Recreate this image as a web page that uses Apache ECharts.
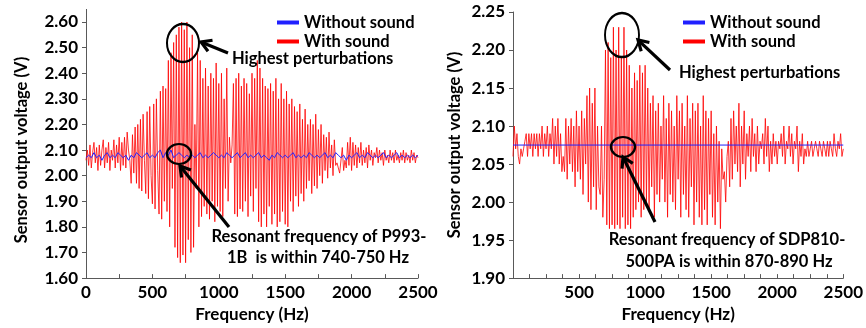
<!DOCTYPE html>
<html><head><meta charset="utf-8">
<script src="https://cdn.jsdelivr.net/npm/echarts@6/dist/echarts.min.js"></script>
<style>html,body{margin:0;padding:0;background:#fff}#c{width:866px;height:328px}</style>
</head><body><div id="c"></div>
<script>
// ---------- data ----------
const stepRed = 10;   // Hz between red samples
const stepBlueL = 20; // Hz between blue samples (left)
const xTicksLeft = [0, 500, 1000, 1500, 2000, 2500];
const xTicksRight = [500, 1000, 1500, 2000, 2500];
const legendNames = ['Without sound', 'With sound'];

const redLeft = [
2.06,2.10,2.04,2.12,2.03,2.09,2.13,2.05,2.11,2.02,
2.12,2.04,2.10,2.14,2.03,2.11,2.05,2.13,2.02,2.10,
2.06,2.14,2.03,2.12,2.05,2.15,2.02,2.13,2.04,2.15,
2.03,2.17,2.10,2.06,1.97,2.16,2.01,2.19,1.97,2.20,
1.95,2.22,1.94,2.24,2.06,1.93,2.25,1.91,2.27,2.00,
1.89,2.28,1.87,2.30,2.02,1.85,2.33,1.83,2.35,1.90,
2.34,1.86,2.45,1.80,2.48,1.95,2.52,1.72,2.55,1.68,
2.58,1.66,2.60,1.69,2.57,1.66,2.60,1.75,2.50,1.70,
2.55,1.72,2.20,1.95,2.48,1.80,2.45,1.84,2.38,1.88,
2.42,1.85,2.35,1.83,2.40,1.90,2.38,1.82,2.44,1.88,
2.36,1.86,2.40,1.84,2.30,1.95,2.42,1.90,2.15,2.05,
2.12,2.36,1.85,2.38,1.84,2.40,1.87,2.35,1.86,2.38,
1.90,2.36,1.84,2.32,1.92,2.40,1.86,2.38,1.95,2.45,
1.82,2.42,1.80,2.38,1.85,2.35,1.80,2.34,1.88,2.36,
1.81,2.33,1.85,2.38,1.80,2.30,1.82,2.36,1.86,2.30,
1.81,2.33,1.80,2.28,1.90,2.30,1.86,2.27,1.92,2.25,
1.88,2.28,1.93,2.22,1.90,2.26,1.95,2.20,1.98,2.22,
1.93,2.20,1.96,2.24,1.95,2.18,2.00,2.20,1.97,2.16,
2.02,2.15,1.99,2.17,2.03,2.12,2.00,2.14,2.04,2.05,
2.03,2.01,2.01,2.11,2.02,2.06,2.03,2.13,2.04,2.15,
2.02,2.13,2.04,2.12,2.03,2.11,2.05,2.13,2.04,2.10,
2.05,2.11,2.03,2.12,2.06,2.10,2.04,2.09,2.07,2.11,
2.05,2.10,2.06,2.09,2.04,2.10,2.06,2.08,2.05,2.10,
2.06,2.09,2.05,2.10,2.06,2.08,2.05,2.09,2.06,2.10,
2.05,2.09,2.06,2.08,2.05,2.10,2.06,2.09,2.05,2.08,2.07
];

const blueLeft = [
2.07,2.08,2.07,2.09,2.07,2.08,2.06,2.08,2.09,2.07,
2.08,2.07,2.09,2.08,2.07,2.08,2.06,2.08,2.07,2.09,
2.08,2.07,2.08,2.09,2.07,2.08,2.07,2.09,2.10,2.07,
2.09,2.08,2.10,2.07,2.08,2.09,2.08,2.07,2.08,2.07,
2.08,2.07,2.08,2.09,2.07,2.08,2.07,2.08,2.09,2.08,
2.07,2.08,2.07,2.09,2.08,2.07,2.08,2.09,2.07,2.08,
2.09,2.07,2.08,2.07,2.08,2.09,2.07,2.08,2.07,2.06,
2.08,2.07,2.09,2.08,2.07,2.08,2.07,2.08,2.09,2.07,
2.08,2.07,2.08,2.07,2.09,2.08,2.07,2.08,2.07,2.08,
2.09,2.07,2.08,2.07,2.09,2.08,2.07,2.08,2.06,2.08,
2.07,2.08,2.09,2.07,2.08,2.07,2.09,2.08,2.07,2.08,
2.07,2.08,2.09,2.07,2.08,2.07,2.08,2.09,2.07,2.08,
2.07,2.08,2.07,2.08,2.07,2.08
];

const redRight = [
2.06,2.10,2.07,2.09,2.06,2.05,2.07,2.06,2.07,2.08,
2.09,2.06,2.09,2.07,2.09,2.06,2.09,2.07,2.09,2.06,
2.09,2.07,2.10,2.06,2.09,2.07,2.10,2.06,2.09,2.07,
2.11,2.05,2.10,2.06,2.11,2.05,2.09,2.04,2.06,2.04,
2.11,2.03,2.10,2.05,2.11,2.04,2.10,2.02,2.12,2.04,
2.10,2.03,2.12,2.01,2.11,2.05,2.14,2.00,2.15,1.99,
2.13,2.02,2.15,1.99,2.10,2.02,2.01,2.10,1.98,2.03,
2.20,1.97,2.21,1.965,2.19,1.97,2.23,1.965,2.20,1.97,
2.23,1.965,2.19,1.98,2.23,1.965,2.20,1.97,2.18,1.965,
2.15,1.98,2.17,1.99,2.16,2.00,2.18,1.98,2.17,1.99,
2.18,2.00,2.15,1.99,2.13,2.02,2.14,1.98,2.12,2.01,
2.13,2.00,2.10,2.03,2.14,2.00,2.11,1.98,2.13,2.01,
2.12,2.00,2.10,1.99,2.14,2.03,2.12,1.98,2.13,2.01,
2.10,1.99,2.14,1.98,2.11,2.02,2.13,1.97,2.12,2.00,
2.13,1.98,2.10,1.97,2.14,1.99,2.12,1.97,2.11,2.01,
2.12,1.98,2.09,1.97,2.10,2.00,2.08,1.965,2.07,2.03,
2.04,2.00,2.06,2.08,2.02,2.11,2.03,2.12,2.05,2.10,
2.04,2.13,2.02,2.10,2.05,2.12,2.03,2.09,2.06,2.10,
2.04,2.11,2.06,2.09,2.04,2.10,2.05,2.08,2.07,2.09,
2.05,2.11,2.06,2.10,2.04,2.08,2.05,2.09,2.06,2.08,
2.05,2.08,2.07,2.09,2.06,2.10,2.05,2.08,2.07,2.10,
2.06,2.09,2.05,2.08,2.07,2.10,2.04,2.08,2.06,2.09,
2.05,2.07,2.06,2.08,2.06,2.07,2.08,2.06,2.07,2.08,
2.07,2.06,2.08,2.07,2.06,2.08,2.07,2.06,2.08,2.06,
2.08,2.07,2.06,2.09,2.07,2.06,2.08,2.07,2.09,2.06,2.07
];

const blueRightFreq = [0, 2500];
const blueRight = [2.075, 2.075];

// ---------- build ----------
const pairs = (arr, step) => arr.map((v, i) => [i * step, v]);
const FONT = 'Lato';
const txt = {fontFamily: FONT, fontWeight: 'bold', fontSize: 17, color: '#000'};

function xAxis(gi, interval, ticks) {
  return {
    type: 'value', gridIndex: gi, min: 0, max: 2500, interval: interval,
    name: 'Frequency (Hz)', nameLocation: 'middle', nameGap: 27,
    nameTextStyle: Object.assign({}, txt, {fontSize: 17}),
    axisLine: {lineStyle: {color: '#595959', width: 1}},
    axisTick: {inside: true, length: 4, lineStyle: {color: '#595959'}},
    axisLabel: Object.assign({}, txt, {margin: 6, formatter: v => ticks.indexOf(v) >= 0 ? String(v) : ''}),
    splitLine: {show: false}
  };
}
function yAxis(gi, min, max, interval, gap) {
  return {
    type: 'value', gridIndex: gi, min: min, max: max, interval: interval,
    name: 'Sensor output voltage (V)', nameLocation: 'middle', nameGap: gap,
    nameTextStyle: Object.assign({}, txt, {fontSize: 16.5}),
    axisLine: {show: true, lineStyle: {color: '#595959', width: 1}},
    axisTick: {show: true, inside: false, length: 4, lineStyle: {color: '#595959'}},
    axisLabel: Object.assign({}, txt, {margin: 8, formatter: v => v.toFixed(2)}),
    splitLine: {show: false}
  };
}

function ann(cx, cy, rx, ry, ax1, ay1, ax2, ay2) {
  const dx = ax2 - ax1, dy = ay2 - ay1, L = Math.hypot(dx, dy);
  const ux = dx / L, uy = dy / L, h = 10, w = 6;
  const bx = ax1 + ux * h, by = ay1 + uy * h;
  return [
    {type: 'circle', shape: {cx: 0, cy: 0, r: 1}, x: cx, y: cy, scaleX: rx, scaleY: ry,
     style: {fill: null, stroke: '#000', lineWidth: 2.2, strokeNoScale: true}, z: 100},
    {type: 'line', shape: {x1: ax1 + ux * 2, y1: ay1 + uy * 2, x2: ax2, y2: ay2},
     style: {stroke: '#000', lineWidth: 3.2}, z: 100},
    {type: 'polyline', shape: {points: [[bx - uy * w, by + ux * w], [ax1, ay1], [bx + uy * w, by - ux * w]]},
     style: {stroke: '#000', lineWidth: 3.2, fill: null, lineJoin: 'miter'}, z: 100}
  ];
}
function label(x, y, text, align) {
  return {type: 'text', x: x, y: y, z: 100,
    style: {text: text, font: 'bold 16.5px ' + FONT, fill: '#000', textAlign: align || 'left', textVerticalAlign: 'middle'}};
}

const graphics = [].concat(
  ann(183, 43, 16, 19, 201, 42, 228, 53),
  ann(179, 154, 12, 10, 180, 166, 229, 227),
  ann(622, 35, 17, 22, 638, 40, 670, 70),
  ann(623, 147, 12, 10, 623, 157, 655, 222),
  [label(232, 59, 'Highest perturbations'),
   label(319, 237, 'Resonant frequency of P993-', 'center'),
   label(318, 258, '1B  is within 740-750 Hz', 'center'),
   label(679, 73, 'Highest perturbations'),
   label(727, 240, 'Resonant frequency of SDP810-', 'center'),
   label(729, 262, '500PA is within 870-890 Hz', 'center'),
   {type: 'line', shape: {x1: 86.5, y1: 9, x2: 86.5, y2: 22}, style: {stroke: '#595959', lineWidth: 1}}]
);

function legend(left) {
  return {data: legendNames, left: left, top: 9, orient: 'vertical', itemGap: 2,
    icon: 'rect', itemWidth: 22, itemHeight: 4, selectedMode: false,
    textStyle: Object.assign({}, txt, {fontSize: 16.5})};
}

const option = {
  animation: false,
  grid: [
    {left: 86, right: 448, top: 22, bottom: 49},
    {left: 513, right: 20, top: 12, bottom: 47}
  ],
  xAxis: [xAxis(0, 250, xTicksLeft), xAxis(1, 125, xTicksRight)],
  yAxis: [yAxis(0, 1.6, 2.6, 0.1, 56), yAxis(1, 1.9, 2.25, 0.05, 50)],
  legend: [legend(272), legend(678)],
  series: [
    {name: 'With sound', type: 'line', xAxisIndex: 0, yAxisIndex: 0, data: pairs(redLeft, stepRed),
     showSymbol: false, lineStyle: {color: '#ff0000', width: 0.8}, itemStyle: {color: '#ff0000'}, z: 2},
    {name: 'Without sound', type: 'line', xAxisIndex: 0, yAxisIndex: 0, data: pairs(blueLeft, stepBlueL),
     showSymbol: false, lineStyle: {color: '#2020ff', width: 1}, itemStyle: {color: '#2020ff'}, z: 3},
    {name: 'With sound', type: 'line', xAxisIndex: 1, yAxisIndex: 1, data: pairs(redRight, stepRed),
     showSymbol: false, lineStyle: {color: '#ff0000', width: 0.8}, itemStyle: {color: '#ff0000'}, z: 2},
    {name: 'Without sound', type: 'line', xAxisIndex: 1, yAxisIndex: 1,
     data: blueRightFreq.map((f, i) => [f, blueRight[i]]),
     showSymbol: false, lineStyle: {color: '#2020ff', width: 1}, itemStyle: {color: '#2020ff'}, z: 3}
  ],
  graphic: graphics
};

const chart = echarts.init(document.getElementById('c'), null, {renderer: 'canvas'});
chart.setOption(option);
</script>
</body></html>
